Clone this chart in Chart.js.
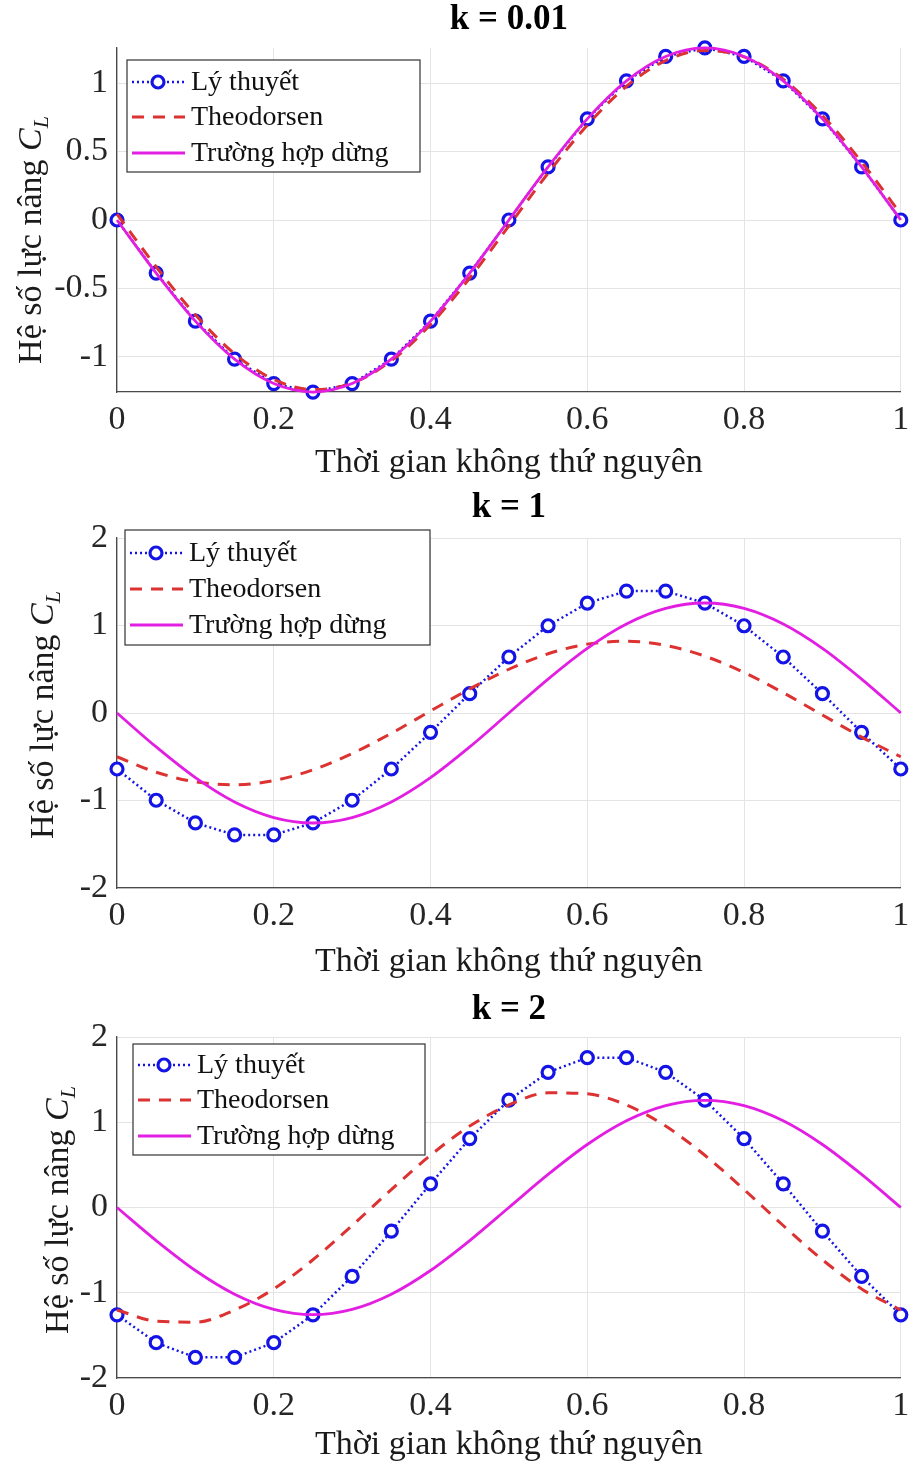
<!DOCTYPE html>
<html>
<head>
<meta charset="utf-8">
<script src="https://cdn.jsdelivr.net/npm/chart.js@4.4.1/dist/chart.umd.min.js"></script>
<style>
  body { margin: 0; background: #fff; }
  #wrap { position: relative; width: 910px; height: 1466px; }
  canvas { position: absolute; left: 0; }
</style>
</head>
<body>
<div id="wrap">
  <canvas id="c1" width="910" height="490" style="top:0px"></canvas>
  <canvas id="c2" width="910" height="495" style="top:490px"></canvas>
  <canvas id="c3" width="910" height="481" style="top:985px"></canvas>
</div>
<script>
// dimensionless time (one period) and tick values
const times = [0, 0.05, 0.1, 0.15, 0.2, 0.25, 0.3, 0.35, 0.4, 0.45, 0.5,
               0.55, 0.6, 0.65, 0.7, 0.75, 0.8, 0.85, 0.9, 0.95, 1];
const xTicks = [0, 0.2, 0.4, 0.6, 0.8, 1];
const yTicksK001 = [-1, -0.5, 0, 0.5, 1];
const yTicksK12 = [-2, -1, 0, 1, 2];

const seriesNames = ['Lý thuyết', 'Theodorsen', 'Trường hợp dừng'];
const panelTitles = ['k = 0.01', 'k = 1', 'k = 2'];

// steady case (same in every panel)
const steadyCL = [0, -0.388, -0.739, -1.017, -1.195, -1.257, -1.195, -1.017, -0.739, -0.388, 0,
                  0.388, 0.739, 1.017, 1.195, 1.257, 1.195, 1.017, 0.739, 0.388, 0];

// k = 0.01
const theoryK001 = [0, -0.388, -0.739, -1.017, -1.195, -1.257, -1.195, -1.017, -0.739, -0.388, 0,
                    0.388, 0.739, 1.017, 1.195, 1.257, 1.195, 1.017, 0.739, 0.388, 0];
const theodK001 = [0.043, -0.342, -0.693, -0.977, -1.165, -1.239, -1.192, -1.028, -0.763, -0.424, -0.043,
                   0.342, 0.693, 0.977, 1.165, 1.239, 1.192, 1.028, 0.763, 0.424, 0.043];

// k = 1
const theoryK1 = [-0.64, -0.997, -1.256, -1.393, -1.393, -1.256, -0.997, -0.64, -0.221, 0.221, 0.64,
                  0.997, 1.256, 1.393, 1.393, 1.256, 0.997, 0.64, 0.221, -0.221, -0.64];
const theodK1 = [-0.5, -0.677, -0.787, -0.82, -0.772, -0.65, -0.463, -0.232, 0.023, 0.275, 0.5,
                 0.677, 0.787, 0.82, 0.772, 0.65, 0.463, 0.232, -0.023, -0.275, -0.5];

// k = 2
const theoryK2 = [-1.259, -1.586, -1.758, -1.758, -1.586, -1.259, -0.808, -0.278, 0.278, 0.808, 1.259,
                  1.586, 1.758, 1.758, 1.586, 1.259, 0.808, 0.278, -0.278, -0.808, -1.259];
const theodK2 = [-1.203, -1.333, -1.345, -1.203, -0.955, -0.613, -0.211, 0.211, 0.613, 0.955, 1.203,
                 1.345, 1.333, 1.203, 0.955, 0.613, 0.211, -0.211, -0.613, -0.955, -1.203];

const SERIF = "'Liberation Serif', 'Times New Roman', serif";
const BLUE = '#1414e6';
const RED = '#dc3232';
const MAGENTA = '#e31ee3';

const toPts = arr => arr.map((v, i) => ({ x: times[i], y: v }));

// draws legend box, title and axis labels on top of the chart
const decoPlugin = {
  id: 'deco',
  afterDraw(chart) {
    const o = chart.options.plugins.deco;
    const ctx = chart.ctx;
    const area = chart.chartArea;
    ctx.save();

    // title
    ctx.fillStyle = '#000';
    ctx.font = 'bold 35px ' + SERIF;
    ctx.textAlign = 'center';
    ctx.textBaseline = 'middle';
    ctx.fillText(o.title, (area.left + area.right) / 2, o.titleY);

    // x label
    ctx.fillStyle = '#1a1a1a';
    ctx.font = '34px ' + SERIF;
    ctx.fillText('Thời gian không thứ nguyên', (area.left + area.right) / 2, o.xLabelY);

    // y label with italic C and subscript L
    ctx.translate(o.yLabelX, o.yLabelY);
    ctx.rotate(-Math.PI / 2);
    const main = 'Hệ số lực nâng ';
    ctx.font = '34px ' + SERIF;
    const w1 = ctx.measureText(main).width;
    ctx.font = 'italic 34px ' + SERIF;
    const w2 = ctx.measureText('C').width;
    ctx.font = 'italic 22px ' + SERIF;
    const w3 = ctx.measureText('L').width;
    let x0 = -(w1 + w2 + w3) / 2;
    ctx.textAlign = 'left';
    ctx.textBaseline = 'alphabetic';
    ctx.font = '34px ' + SERIF;
    ctx.fillText(main, x0, 11);
    ctx.font = 'italic 34px ' + SERIF;
    ctx.fillText('C', x0 + w1, 11);
    ctx.font = 'italic 22px ' + SERIF;
    ctx.fillText('L', x0 + w1 + w2, 18);
    ctx.restore();

    // legend
    const lg = o.legend;
    ctx.save();
    ctx.fillStyle = '#fff';
    ctx.fillRect(lg.x, lg.y, lg.w, lg.h);
    ctx.strokeStyle = '#333';
    ctx.lineWidth = 1.2;
    ctx.strokeRect(lg.x, lg.y, lg.w, lg.h);
    const dsets = chart.data.datasets;
    seriesNames.forEach((name, i) => {
      const ds = dsets.find(d => d.label === name);
      const yy = lg.y + lg.rows[i];
      ctx.strokeStyle = ds.borderColor;
      ctx.lineWidth = ds.borderWidth;
      ctx.setLineDash(ds.borderDash || []);
      ctx.beginPath();
      ctx.moveTo(lg.x + 5, yy);
      ctx.lineTo(lg.x + 58, yy);
      ctx.stroke();
      ctx.setLineDash([]);
      if (ds.pointRadius > 0) {
        ctx.beginPath();
        ctx.arc(lg.x + 31, yy, ds.pointRadius, 0, Math.PI * 2);
        ctx.fillStyle = ds.pointBackgroundColor;
        ctx.fill();
        ctx.lineWidth = ds.pointBorderWidth;
        ctx.strokeStyle = ds.pointBorderColor;
        ctx.stroke();
      }
      ctx.fillStyle = '#111';
      ctx.font = '28px ' + SERIF;
      ctx.textAlign = 'left';
      ctx.textBaseline = 'middle';
      ctx.fillText(name, lg.x + 64, yy + 1);
    });
    ctx.restore();
  }
};

function makePanel(id, p) {
  const canvas = document.getElementById(id);
  const H = canvas.height;
  return new Chart(canvas, {
    type: 'line',
    data: {
      datasets: [
        {
          label: seriesNames[0],
          data: toPts(p.theory),
          borderColor: BLUE,
          borderWidth: 2.5,
          borderDash: [2, 3],
          tension: 0,
          pointRadius: 6,
          pointBorderWidth: 3.2,
          pointBorderColor: BLUE,
          pointBackgroundColor: '#ffffff',
          clip: false,
          order: 3
        },
        {
          label: seriesNames[1],
          data: toPts(p.theod),
          borderColor: RED,
          borderWidth: 3,
          borderDash: [12, 9],
          cubicInterpolationMode: 'monotone',
          pointRadius: 0,
          clip: false,
          order: 2
        },
        {
          label: seriesNames[2],
          data: toPts(p.steady),
          borderColor: MAGENTA,
          borderWidth: 2.8,
          cubicInterpolationMode: 'monotone',
          pointRadius: 0,
          clip: false,
          order: 1
        }
      ]
    },
    options: {
      responsive: false,
      animation: false,
      devicePixelRatio: 1,
      layout: { padding: { top: p.top, right: 7, bottom: 0, left: 0 } },
      plugins: {
        legend: { display: false },
        tooltip: { enabled: false },
        deco: {
          title: p.title,
          titleY: p.titleY,
          xLabelY: p.xLabelY,
          yLabelX: p.yLabelX,
          yLabelY: p.yLabelY,
          legend: p.legend
        }
      },
      scales: {
        x: {
          type: 'linear',
          min: 0,
          max: 1,
          afterBuildTicks: s => { s.ticks = xTicks.map(v => ({ value: v })); },
          afterFit: s => { s.height = H - p.bottom; s.paddingLeft = 0; s.paddingRight = 0; },
          grid: { color: '#e4e4e4', drawTicks: false },
          border: { color: '#4a4a4a', width: 1.3 },
          ticks: {
            padding: 8,
            color: '#262626',
            font: { family: SERIF, size: 34 },
            callback: v => String(v)
          }
        },
        y: {
          min: p.yMin,
          max: p.yMax,
          afterBuildTicks: s => { s.ticks = p.yTicks.map(v => ({ value: v })); },
          afterFit: s => { s.width = 117; s.paddingTop = 0; s.paddingBottom = 0; },
          grid: { color: '#e4e4e4', drawTicks: false },
          border: { color: '#4a4a4a', width: 1.3 },
          ticks: {
            padding: 9,
            color: '#262626',
            font: { family: SERIF, size: 34 },
            callback: v => String(v)
          }
        }
      }
    },
    plugins: [decoPlugin]
  });
}

makePanel('c1', {
  title: panelTitles[0], theory: theoryK001, theod: theodK001, steady: steadyCL,
  yMin: -1.2566, yMax: 1.2566, yTicks: yTicksK001,
  top: 48, bottom: 392, titleY: 20, xLabelY: 463, yLabelX: 30, yLabelY: 240,
  legend: { x: 127, y: 60, w: 293, h: 112, rows: [22, 57, 93] }
});

makePanel('c2', {
  title: panelTitles[1], theory: theoryK1, theod: theodK1, steady: steadyCL,
  yMin: -2, yMax: 2, yTicks: yTicksK12,
  top: 48, bottom: 398, titleY: 18, xLabelY: 472, yLabelX: 42, yLabelY: 225,
  legend: { x: 125, y: 40, w: 305, h: 115, rows: [23, 59, 95] }
});

makePanel('c3', {
  title: panelTitles[2], theory: theoryK2, theod: theodK2, steady: steadyCL,
  yMin: -2, yMax: 2, yTicks: yTicksK12,
  top: 52, bottom: 393, titleY: 25, xLabelY: 460, yLabelX: 57, yLabelY: 225,
  legend: { x: 133, y: 59, w: 292, h: 111, rows: [21, 56, 92] }
});
</script>
</body>
</html>
